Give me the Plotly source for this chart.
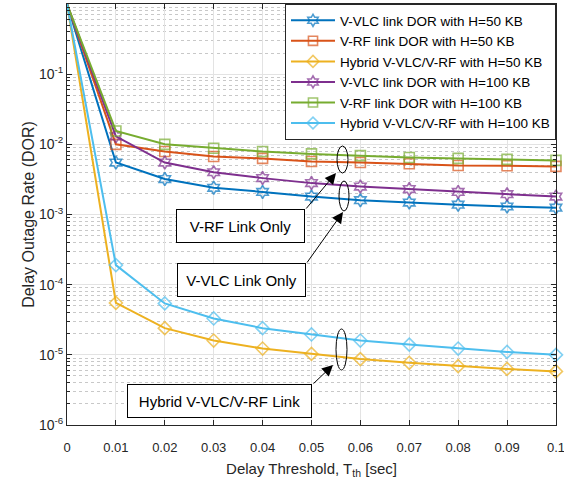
import plotly.graph_objects as go

x = [0, 0.01, 0.02, 0.03, 0.04, 0.05, 0.06, 0.07, 0.08, 0.09, 0.1]

vlc_50 = [1, 5.5e-3, 3.2e-3, 2.4e-3, 2.1e-3, 1.8e-3, 1.6e-3, 1.48e-3, 1.38e-3, 1.3e-3, 1.25e-3]
rf_50 = [1, 1.0e-2, 7.9e-3, 6.7e-3, 6.3e-3, 5.7e-3, 5.5e-3, 5.3e-3, 5.0e-3, 4.95e-3, 4.85e-3]
hyb_50 = [1, 5.5e-5, 2.4e-5, 1.6e-5, 1.23e-5, 1.03e-5, 8.7e-6, 7.7e-6, 6.9e-6, 6.3e-6, 5.8e-6]
vlc_100 = [1, 1.3e-2, 5.5e-3, 4.0e-3, 3.3e-3, 2.8e-3, 2.5e-3, 2.3e-3, 2.1e-3, 1.95e-3, 1.8e-3]
rf_100 = [1, 1.55e-2, 1.0e-2, 8.8e-3, 7.9e-3, 7.3e-3, 6.9e-3, 6.5e-3, 6.3e-3, 6.1e-3, 5.9e-3]
hyb_100 = [1, 1.9e-4, 5.4e-5, 3.3e-5, 2.4e-5, 1.95e-5, 1.6e-5, 1.4e-5, 1.23e-5, 1.1e-5, 1.0e-5]

names = [
    "V-VLC link DOR with H=50 KB",
    "V-RF link DOR with H=50 KB",
    "Hybrid V-VLC/V-RF with H=50 KB",
    "V-VLC link DOR with H=100 KB",
    "V-RF link DOR with H=100 KB",
    "Hybrid V-VLC/V-RF with H=100 KB",
]
series = [vlc_50, rf_50, hyb_50, vlc_100, rf_100, hyb_100]
colors = ["#0072BD", "#D95319", "#EDB120", "#7E2F8E", "#77AC30", "#4DBEEE"]
symbols = ["hexagram-open", "square-open", "diamond-open",
           "hexagram-open", "square-open", "diamond-open"]

ytickvals = [1e-6, 1e-5, 1e-4, 1e-3, 1e-2, 1e-1]
yticktext = ["10<sup>-6</sup>", "10<sup>-5</sup>", "10<sup>-4</sup>",
             "10<sup>-3</sup>", "10<sup>-2</sup>", "10<sup>-1</sup>"]
xtickvals = [0, 0.01, 0.02, 0.03, 0.04, 0.05, 0.06, 0.07, 0.08, 0.09, 0.1]
xticktext = ["0", "0.01", "0.02", "0.03", "0.04", "0.05", "0.06", "0.07", "0.08", "0.09", "0.1"]
yminor = [m * 10.0 ** e for e in range(-6, 0) for m in range(2, 10)]

FONT = "Liberation Sans, Arial, Helvetica, sans-serif"

fig = go.Figure()
for name, ys, c, s in zip(names, series, colors, symbols):
    # no marker drawn at the corner point (x = 0), as in the reference
    msize = [0] + [10] * (len(x) - 1)
    fig.add_trace(go.Scatter(
        x=x, y=ys, name=name, mode="lines+markers",
        line=dict(color=c, width=2),
        marker=dict(symbol=s, size=msize, color=c, line=dict(color=c, width=1.6)),
        cliponaxis=False,
    ))

W, H = 564, 485
L, R, T, B = 67, 8, 4, 60
PW, PH = W - L - R, H - T - B


def px(xp):
    return (xp - L) / PW


def py(yp):
    return (H - B - yp) / PH


shapes = []
for (cx, cy, w, h) in [(342.5, 159.5, 11, 27), (344, 196, 10, 30), (341.5, 349.5, 11, 41)]:
    shapes.append(dict(type="circle", xref="paper", yref="paper",
                       x0=px(cx - w / 2), x1=px(cx + w / 2),
                       y0=py(cy + h / 2), y1=py(cy - h / 2),
                       line=dict(color="black", width=1)))

annotations = []
for (txt, x0, x1, y0, y1) in [
    ("V-RF Link Only", 176, 305, 209, 243),
    ("V-VLC Link Only", 177, 306, 263, 297),
    ("Hybrid V-VLC/V-RF Link", 127, 312, 384, 418),
]:
    annotations.append(dict(
        xref="paper", yref="paper", x=px((x0 + x1) / 2), y=py((y0 + y1) / 2),
        text=txt, showarrow=False, font=dict(family=FONT, size=15, color="black"),
        bordercolor="black", borderwidth=1, bgcolor="white",
        width=(x1 - x0) - 4, height=(y1 - y0) - 4, borderpad=1,
        xanchor="center", yanchor="middle", align="center",
    ))
for (tx, ty, sx, sy) in [(336, 173, 305, 210), (343, 212, 306, 264), (333, 365, 312, 385)]:
    annotations.append(dict(
        xref="paper", yref="paper", x=px(tx), y=py(ty), text="",
        showarrow=True, arrowhead=2, arrowsize=2.2, arrowwidth=1, arrowcolor="black",
        ax=sx - tx, ay=sy - ty, standoff=0,
    ))

fig.update_layout(
    width=W, height=H,
    margin=dict(l=L, r=R, t=T, b=B, autoexpand=False),
    paper_bgcolor="white", plot_bgcolor="white",
    font=dict(family=FONT, size=13, color="#262626"),
    shapes=shapes, annotations=annotations,
    legend=dict(
        x=1, y=1, xanchor="right", yanchor="top",
        bgcolor="white", bordercolor="#262626", borderwidth=1,
        font=dict(family=FONT, size=13.5, color="black"),
        tracegroupgap=0, itemwidth=44,
    ),
    showlegend=True,
)
fig.update_xaxes(
    range=[0, 0.10001], tickvals=xtickvals, ticktext=xticktext,
    showgrid=True, gridcolor="#e3e3e3", gridwidth=1,
    showline=True, linecolor="#262626", linewidth=1, mirror="ticks",
    ticks="inside", ticklen=5, tickcolor="#262626",
    zeroline=False, ticklabelstandoff=10, ticklabeloverflow="allow",
    automargin=False,
    title=dict(text="Delay Threshold, T<sub>th</sub> [sec]", font=dict(size=15), standoff=9),
    tickfont=dict(size=13),
)
fig.update_yaxes(
    type="log", range=[-6, 0], tickvals=ytickvals, ticktext=yticktext,
    showgrid=True, gridcolor="#e3e3e3", gridwidth=1,
    showline=True, linecolor="#262626", linewidth=1, mirror="ticks",
    ticks="inside", ticklen=5, tickcolor="#262626",
    minor=dict(tickvals=yminor, ticks="inside", ticklen=3, tickcolor="#262626",
               showgrid=True, gridcolor="#c8c8c8", griddash="dot", gridwidth=1),
    zeroline=False, automargin=False,
    title=dict(text="Delay Outage Rate (DOR)", font=dict(size=16), standoff=0),
    tickfont=dict(size=14),
)

fig.write_html("out.html")
